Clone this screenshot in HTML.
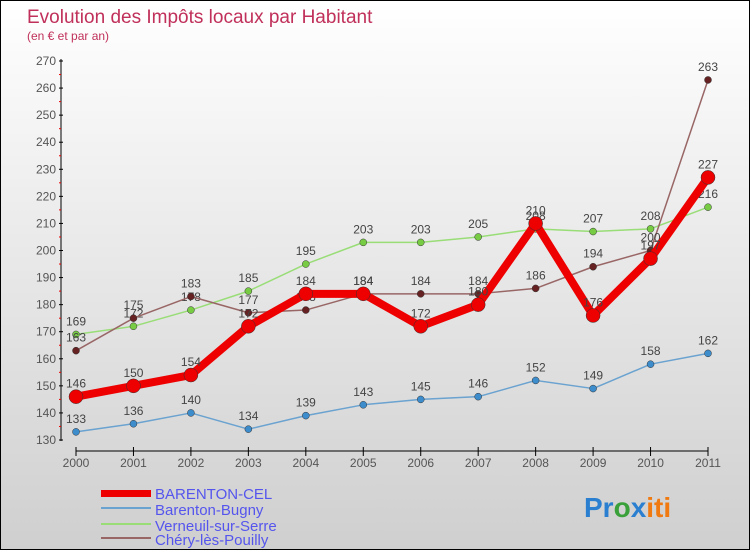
<!DOCTYPE html>
<html><head><meta charset="utf-8"><style>
body{margin:0}
#c{width:748px;height:548px;border:1px solid #000;background:linear-gradient(#fff,#cfcfcf);position:relative;font-family:"Liberation Sans",sans-serif;overflow:hidden}
svg{position:absolute;left:0;top:0}
</style></head><body>
<div id="c">
<svg id="s" width="748" height="548">
<text x="26" y="22" font-size="19" fill="#c0305a">Evolution des Impôts locaux par Habitant</text>
<text x="26" y="39" font-size="12" fill="#c0305a">(en € et par an)</text>
<g id="ax"></g><g id="ser"></g>
<g>
<rect x="100" y="489" width="50" height="7" fill="#e00"/>
<text x="154" y="498" font-size="15" fill="#5555ee">BARENTON-CEL</text>
<line x1="100" x2="150" y1="507" y2="507" stroke="#6aa2d0" stroke-width="2"/>
<text x="154" y="514" font-size="15" fill="#5555ee">Barenton-Bugny</text>
<line x1="100" x2="150" y1="523" y2="523" stroke="#99dd77" stroke-width="2"/>
<text x="154" y="530" font-size="15" fill="#5555ee">Verneuil-sur-Serre</text>
<line x1="100" x2="150" y1="537" y2="537" stroke="#996666" stroke-width="2"/>
<text x="154" y="544" font-size="15" fill="#5555ee">Chéry-lès-Pouilly</text>
</g>
<g font-size="28" font-weight="bold">
<text x="583" y="516"><tspan fill="#2a7fd0">Pr</tspan><tspan fill="#3aa03a">o</tspan><tspan fill="#2a7fd0">x</tspan><tspan fill="#f07a10">iti</tspan></text>
</g>
</svg></div>
<script>
const years=["2000","2001","2002","2003","2004","2005","2006","2007","2008","2009","2010","2011"];
const yTicks=[130,140,150,160,170,180,190,200,210,220,230,240,250,260,270];
const barentonCel=[146,150,154,172,184,184,172,180,210,176,197,227];
const barentonBugny=[133,136,140,134,139,143,145,146,152,149,158,162];
const verneuil=[169,172,178,185,195,203,203,205,208,207,208,216];
const chery=[163,175,183,177,178,184,184,184,186,194,200,263];
const NS="http://www.w3.org/2000/svg";
const X=i=>75+i*(632/11);
const Y=v=>439-(v-130)*(379/140);
function mk(t,a,p){const e=document.createElementNS(NS,t);for(const k in a)e.setAttribute(k,a[k]);p.appendChild(e);return e;}
const ax=document.getElementById('ax');
const yl=mk('line',{x1:60,x2:60,y1:58,y2:440,stroke:'#000'},ax);


const xl=mk('line',{x1:75,x2:707,y1:450,y2:450,stroke:'#000'},ax);


yTicks.forEach((v,i)=>{
 mk('line',{x1:58,x2:62,y1:Y(v),y2:Y(v),stroke:'#000'},ax);
 if(i<yTicks.length-1)mk('line',{x1:58,x2:60,y1:Y(v+5),y2:Y(v+5),stroke:'#e00'},ax);
 const t=mk('text',{x:55,y:Y(v)+4,'font-size':12,fill:'#555','text-anchor':'end'},ax);t.textContent=v;
 
 
});
years.forEach((y,i)=>{
 mk('line',{x1:X(i),x2:X(i),y1:446,y2:455,stroke:'#000'},ax);
 const t=mk('text',{x:X(i),y:466,'font-size':12,fill:'#555','text-anchor':'middle'},ax);t.textContent=y;
 
 
});
const ser=document.getElementById('ser');
function series(d,name,col,dot,w,r){
 const g=mk('g',{},ser);
 
 
 mk('polyline',{points:d.map((v,i)=>X(i)+','+Y(v)).join(' '),fill:'none',stroke:col,'stroke-width':w,'stroke-linejoin':'round'},g);
 d.forEach((v,i)=>{
  const c=mk('circle',{cx:X(i),cy:Y(v),r:r,fill:dot,stroke:'#333','stroke-width':0.5},g);
  
  
  const t=mk('text',{x:X(i),y:Y(v)-9,'font-size':12,fill:'#444','text-anchor':'middle'},g);t.textContent=v;
  
  
 });
}
series(barentonBugny,'barenton-bugny','#6aa2d0','#3d8ccc',1.5,3.5);
series(verneuil,'verneuil-sur-serre','#99dd77','#77cc44',1.5,3.5);
series(chery,'chery-les-pouilly','#996666','#662222',1.5,3.5);
series(barentonCel,'barenton-cel','#ee0000','#ee0000',8,7);
</script>
</body></html>
